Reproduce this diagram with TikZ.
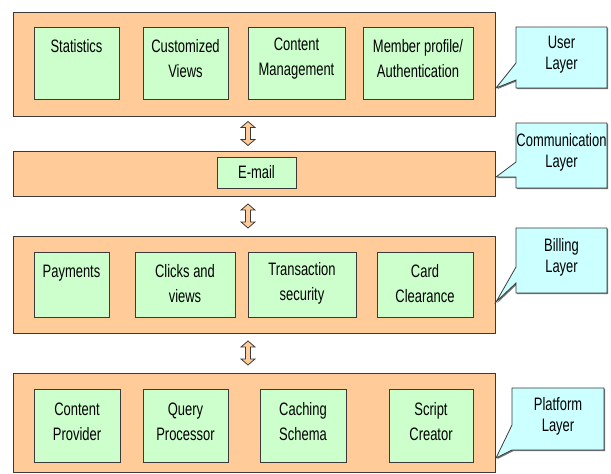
\documentclass[tikz,border=0pt]{standalone}
\usepackage{fontspec}
\setmainfont{Liberation Sans}[FakeStretch=0.72]
\usetikzlibrary{calc,shadows}

\definecolor{layerfill}{HTML}{FFCC99}
\definecolor{modfill}{HTML}{CCFFCC}
\definecolor{notefill}{HTML}{CCFFFF}
\definecolor{edge}{HTML}{3A3A3A}

\tikzset{
  boxshadow/.style={drop shadow={shadow xshift=1.2pt, shadow yshift=-1.2pt, fill=black!55, opacity=1}},
  layer/.style={draw=edge, line width=0.8pt, fill=layerfill, boxshadow,
    anchor=north west, inner sep=0pt, outer sep=0pt, minimum width=482pt},
  module/.style={draw=edge, line width=0.8pt, fill=modfill, boxshadow,
    anchor=north west, inner sep=0pt, outer sep=0pt},
  modtext/.style={align=center, inner sep=0pt, font=\fontsize{18}{25}\selectfont},
  notebox/.style={anchor=north west, inner sep=0pt, outer sep=0pt},
  notetext/.style={align=center, inner sep=0pt, font=\fontsize{18}{21}\selectfont},
  noteshape/.style={draw=edge, line width=0.8pt, fill=notefill, boxshadow, line join=miter},
  updown/.pic={\draw[draw=edge, line width=0.8pt, fill=layerfill, line join=miter]
    (0,-12) -- (7,-6) -- (2.5,-6) -- (2.5,6) -- (7,6) -- (0,12) -- (-7,6)
    -- (-2.5,6) -- (-2.5,-6) -- (-7,-6) -- cycle;}
}

\begin{document}
\begin{tikzpicture}[x=1pt,y=-1pt]
\useasboundingbox (0,0) rectangle (611,474);

% ---- layers ----
\node[layer, minimum height=104pt] (user) at (13,12) {};
\node[layer, minimum height=45pt]  (comm) at (13,151) {};
\node[layer, minimum height=97pt]  (bill) at (13,236) {};
\node[layer, minimum height=99pt]  (plat) at (13,373) {};

% ---- user layer modules ----
\node[module, minimum width=85pt,  minimum height=72pt] (stat) at (34,27)  {};
\node[module, minimum width=85pt,  minimum height=72pt] (cust) at (143,27) {};
\node[module, minimum width=97pt,  minimum height=72pt] (cont) at (248,27) {};
\node[module, minimum width=110pt, minimum height=72pt] (memb) at (363,27) {};
\node[modtext] (statT) at ($(stat.center)+(0,-4.5)$) {Statistics\\\phantom{X}};
\node[modtext] (custT) at ($(cust.center)+(0,-4.5)$) {Customized\\Views};
\node[modtext] (contT) at ($(cont.center)+(0,-4.5)$) {Content\\Management};
\node[modtext] (membT) at ($(memb.center)+(0,-4.5)$) {Member profile/\\Authentication};

% ---- communication layer module ----
\node[module, minimum width=79pt, minimum height=31pt] (mail) at (217,157) {};
\node[modtext] (mailT) at (mail.center) {E-mail};

% ---- billing layer modules ----
\node[module, minimum width=75pt,  minimum height=65pt] (pay)   at (34,252)  {};
\node[module, minimum width=100pt, minimum height=65pt] (click) at (135,252) {};
\node[module, minimum width=108pt, minimum height=65pt] (trans) at (248,252) {};
\node[module, minimum width=96pt,  minimum height=65pt] (card)  at (377,252) {};
\node[modtext] (payT)   at ($(pay.center)+(0,-1)$)   {Payments\\\phantom{X}};
\node[modtext] (clickT) at ($(click.center)+(0,-1)$) {Clicks and\\views};
\node[modtext] (transT) at ($(trans.center)+(0,-1)$) {Transaction\\security};
\node[modtext] (cardT)  at ($(card.center)+(0,-1)$)  {Card\\Clearance};

% ---- platform layer modules ----
\node[module, minimum width=86pt, minimum height=73pt] (prov)  at (34,389)  {};
\node[module, minimum width=85pt, minimum height=73pt] (query) at (143,389) {};
\node[module, minimum width=86pt, minimum height=73pt] (cache) at (260,389) {};
\node[module, minimum width=84pt, minimum height=73pt] (scrpt) at (389,389) {};
\node[modtext] (provT)  at ($(prov.center)+(0,-4)$)  {Content\\Provider};
\node[modtext] (queryT) at ($(query.center)+(0,-4)$) {Query\\Processor};
\node[modtext] (cacheT) at ($(cache.center)+(0,-4)$) {Caching\\Schema};
\node[modtext] (scrptT) at ($(scrpt.center)+(0,-4)$) {Script\\Creator};

% ---- arrows between layers ----
\coordinate (a1) at ($(user.south)!0.5!(comm.north)+(-6,0)$);
\coordinate (a2) at ($(comm.south)!0.5!(bill.north)+(-6,0)$);
\coordinate (a3) at ($(bill.south)!0.5!(plat.north)+(-6,0)$);
\pic at (a1) {updown};
\pic at (a2) {updown};
\pic at (a3) {updown};

% ---- layer callouts ----
\node[notebox, minimum width=91pt, minimum height=61pt] (nu) at (516,27)  {};
\node[notebox, minimum width=91pt, minimum height=65pt] (nc) at (516,123) {};
\node[notebox, minimum width=91pt, minimum height=65pt] (nb) at (516,228) {};
\node[notebox, minimum width=92pt, minimum height=62pt] (np) at (512,388) {};

\coordinate (tu) at ($(user.north east)+(1,76)$);
\coordinate (tc) at ($(comm.north east)+(1,26)$);
\coordinate (tb) at ($(bill.north east)+(1,66)$);
\coordinate (tp) at ($(plat.north east)+(1,85)$);

\draw[noteshape] (nu.north west) -- (nu.north east) -- (nu.south east) -- (nu.south west)
  -- ($(nu.north west)+(0,53)$) -- (tu) -- ($(nu.north west)+(0,36)$) -- cycle;
\draw[noteshape] (nc.north west) -- (nc.north east) -- (nc.south east) -- (nc.south west)
  -- ($(nc.north west)+(0,54)$) -- (tc) -- ($(nc.north west)+(0,39)$) -- cycle;
\draw[noteshape] (nb.north west) -- (nb.north east) -- (nb.south east) -- (nb.south west)
  -- ($(nb.north west)+(0,55)$) -- (tb) -- ($(nb.north west)+(0,39)$) -- cycle;
\draw[noteshape] (np.north west) -- (np.north east) -- (np.south east) -- (np.south west)
  -- (tp) -- ($(np.north west)+(0,37)$) -- cycle;

\node[notetext] (nuT) at ($(nu.center)+(0,-3)$) {User\\Layer};
\node[notetext] (ncT) at ($(nc.center)+(0,-3)$) {Communication\\Layer};
\node[notetext] (nbT) at ($(nb.center)+(0,-3)$) {Billing\\Layer};
\node[notetext] (npT) at ($(np.center)+(0,-3)$) {Platform\\Layer};
\end{tikzpicture}
\end{document}
